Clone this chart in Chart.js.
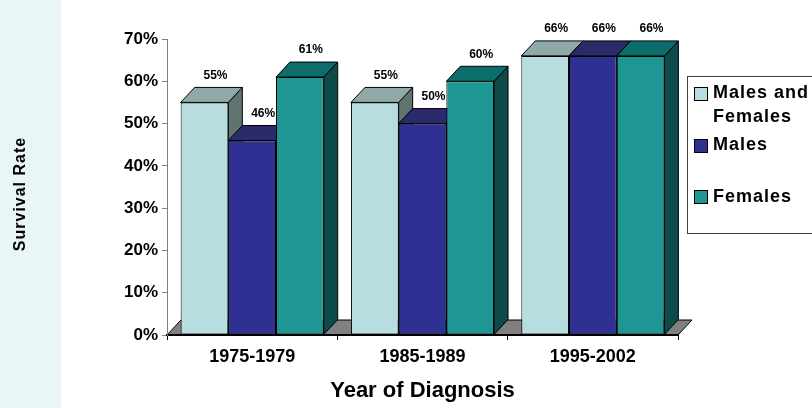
<!DOCTYPE html>
<html>
<head>
<meta charset="utf-8">
<script src="https://cdn.jsdelivr.net/npm/chart.js@4.4.1/dist/chart.umd.min.js"></script>
<style>
  html, body { margin: 0; padding: 0; background: #fff; }
</style>
</head>
<body>
<canvas id="mycanvas" width="812" height="408"></canvas>
<script>
var periods = ['1975-1979', '1985-1989', '1995-2002'];
var bothSexes = [55, 55, 66];
var males = [46, 50, 66];
var females = [61, 60, 66];
var seriesNames = ['Males and Females', 'Males', 'Females'];
var yMax = 70;
var yStep = 10;

var FONT = 'Arial, "Liberation Sans", sans-serif';
var DX = 14, DY = 15;
var frontColors = ['#b8dde0', '#2e3192', '#1e9794'];
var topColors = ['#8fa9a8', '#2b2a6b', '#0b6e6b'];
var sideColors = ['#5f7371', '#1e1d55', '#0e4a49'];

function poly(ctx, pts, fill) {
  ctx.beginPath();
  ctx.moveTo(pts[0][0], pts[0][1]);
  for (var i = 1; i < pts.length; i++) ctx.lineTo(pts[i][0], pts[i][1]);
  ctx.closePath();
  ctx.fillStyle = fill;
  ctx.fill();
  ctx.lineWidth = 1;
  ctx.strokeStyle = '#000';
  ctx.stroke();
}

var depthPlugin = {
  id: 'depth',
  beforeDraw: function(chart) {
    var ctx = chart.ctx, a = chart.chartArea;
    ctx.save();
    ctx.fillStyle = '#e9f6f6';
    ctx.fillRect(0, 0, 61, 408);
    // y axis title
    ctx.translate(21, 194);
    ctx.rotate(-Math.PI / 2);
    ctx.fillStyle = '#000';
    ctx.font = 'bold 16px ' + FONT;
    ctx.letterSpacing = '1px';
    ctx.textAlign = 'center';
    ctx.textBaseline = 'middle';
    ctx.fillText('Survival Rate', 0, 0);
    ctx.restore();
    // floor
    ctx.save();
    poly(ctx, [[a.left, a.bottom], [a.left + DX, a.bottom - DY], [a.right + DX, a.bottom - DY], [a.right, a.bottom]], '#808080');
    ctx.restore();
  },
  beforeDatasetsDraw: function(chart) {
    var ctx = chart.ctx;
    ctx.save();
    for (var i = 0; i < periods.length; i++) {
      for (var d = 0; d < chart.data.datasets.length; d++) {
        var bar = chart.getDatasetMeta(d).data[i];
        var p = bar.getProps(['x', 'y', 'base', 'width'], true);
        var l = p.x - p.width / 2, r = p.x + p.width / 2, t = p.y, b = p.base;
        poly(ctx, [[r, t], [r + DX, t - DY], [r + DX, b - DY], [r, b]], sideColors[d]);
        poly(ctx, [[l, t], [l + DX, t - DY], [r + DX, t - DY], [r, t]], topColors[d]);
      }
    }
    ctx.restore();
  },
  afterDatasetsDraw: function(chart) {
    var ctx = chart.ctx;
    ctx.save();
    ctx.fillStyle = '#000';
    ctx.font = 'bold 12px ' + FONT;
    ctx.textAlign = 'center';
    ctx.textBaseline = 'middle';
    chart.data.datasets.forEach(function(ds, d) {
      chart.getDatasetMeta(d).data.forEach(function(bar, i) {
        var p = bar.getProps(['x', 'y'], true);
        ctx.fillText(ds.data[i] + '%', p.x + 11, p.y - DY - 12);
      });
    });
    ctx.restore();
  },
  afterDraw: function(chart) {
    var ctx = chart.ctx;
    ctx.save();
    ctx.fillStyle = '#fff';
    ctx.fillRect(687.5, 76.5, 140, 157);
    ctx.strokeStyle = '#404040';
    ctx.lineWidth = 1;
    ctx.strokeRect(687.5, 76.5, 140, 157);
    var rows = [
      { box: 87, lines: ['Males and', 'Females'], y: 93 },
      { box: 139, lines: ['Males'], y: 145 },
      { box: 190, lines: ['Females'], y: 197 }
    ];
    ctx.font = 'bold 18px ' + FONT;
    ctx.letterSpacing = '1px';
    ctx.textAlign = 'left';
    ctx.textBaseline = 'middle';
    rows.forEach(function(row, k) {
      ctx.fillStyle = frontColors[k];
      ctx.fillRect(694.5, row.box + 0.5, 13, 13);
      ctx.strokeStyle = '#000';
      ctx.strokeRect(694.5, row.box + 0.5, 13, 13);
      ctx.fillStyle = '#000';
      row.lines.forEach(function(txt, j) {
        ctx.fillText(txt, 713, row.y + j * 24);
      });
    });
    ctx.restore();
  }
};

var chartdata = {
  labels: periods,
  datasets: [bothSexes, males, females].map(function(vals, d) {
    return {
      label: seriesNames[d],
      data: vals,
      backgroundColor: frontColors[d],
      borderColor: '#000',
      borderWidth: 1,
      borderSkipped: false,
      categoryPercentage: 0.84,
      barPercentage: 1
    };
  })
};

var ctx = document.getElementById('mycanvas');
var barGraph = new Chart(ctx, {
  type: 'bar',
  data: chartdata,
  plugins: [depthPlugin],
  options: {
    responsive: false,
    animation: false,
    devicePixelRatio: 1,
    layout: { padding: { top: 39, right: 134, left: 0, bottom: 0 } },
    plugins: { legend: { display: false }, tooltip: { enabled: false } },
    scales: {
      x: {
        afterFit: function(scale) { scale.height = 73; },
        grid: { drawOnChartArea: false, tickLength: 5, tickColor: '#000', offset: true },
        border: { color: '#000', width: 2 },
        ticks: { color: '#000', padding: 6, font: { family: FONT, size: 18, weight: 'bold' } },
        title: {
          display: true,
          text: 'Year of Diagnosis',
          color: '#000',
          padding: { top: 0, bottom: 4 },
          font: { family: FONT, size: 22, weight: 'bold' }
        }
      },
      y: {
        min: 0,
        max: yMax,
        afterFit: function(scale) { scale.width = 167; },
        grid: { drawOnChartArea: false, tickLength: 5, tickColor: '#808080' },
        border: { color: '#808080', width: 1 },
        ticks: {
          stepSize: yStep,
          color: '#000',
          padding: 4,
          font: { family: FONT, size: 17, weight: 'bold' },
          callback: function(v) { return v + '%'; }
        }
      }
    }
  }
});
</script>
</body>
</html>
